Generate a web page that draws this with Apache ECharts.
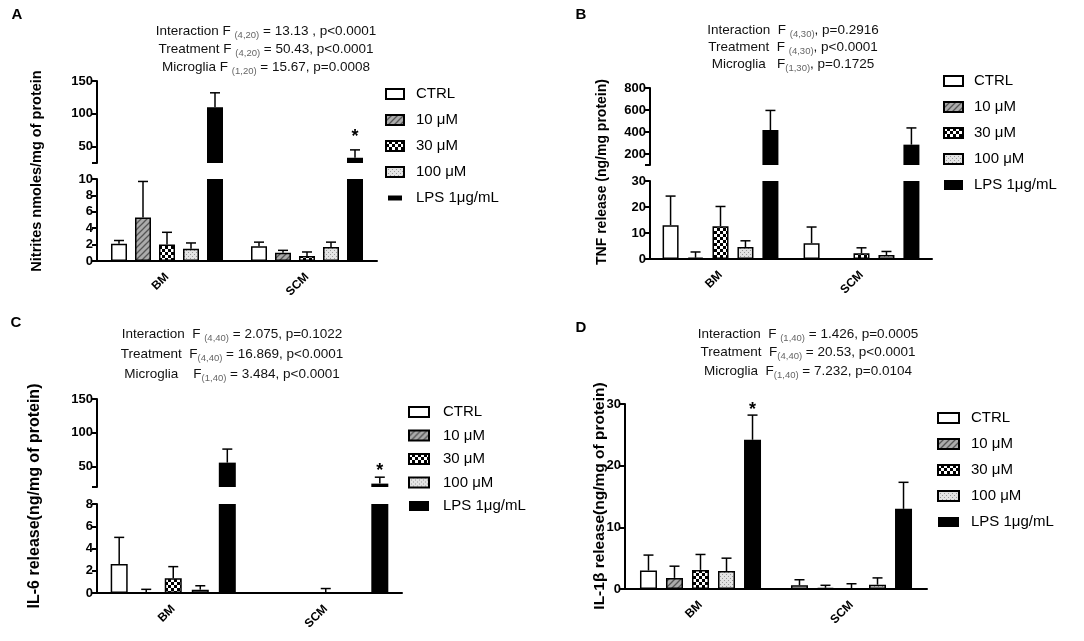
<!DOCTYPE html>
<html>
<head>
<meta charset="utf-8">
<script src="https://cdn.jsdelivr.net/npm/echarts@6/dist/echarts.min.js"></script>
<style>
html, body { margin: 0; background: #fff; }
#main { width: 1084px; height: 641px; }
</style>
</head>
<body>
<div id="main"></div>
<script>
var FONT = '"Liberation Sans", Arial, sans-serif';

var treatments = ['CTRL', '10 μM', '30 μM', '100 μM', 'LPS 1μg/mL'];
var groups = ['BM', 'SCM'];

// rows = treatment, cols = [BM, SCM]
// A - nitrites
var nitMean = [[2.1, 1.8], [5.3, 1.0], [2.0, 0.6], [1.5, 1.7], [110, 33]];
var nitErr = [[0.4, 0.5], [4.4, 0.3], [1.5, 0.5], [0.7, 0.6], [22, 12]];
// B - TNF
var tnfMean = [[13, 6.1], [0.5, 0], [12.6, 2.2], [4.6, 1.5], [418, 285]];
var tnfErr = [[11.2, 6.2], [2.2, 0], [7.6, 2.1], [2.4, 1.4], [178, 152]];
// C - IL-6
var il6Mean = [[2.6, 0], [0.05, 0], [1.32, 0], [0.3, 0], [56, 25]];
var il6Err = [[2.4, 0], [0.28, 0], [1.05, 0.4], [0.35, 0], [20, 9.5]];
// D - IL-1b
var il1Mean = [[3.0, 0.6], [1.8, 0.2], [3.1, 0], [2.9, 0.7], [24.2, 13.0]];
var il1Err = [[2.5, 0.9], [1.9, 0.4], [2.5, 0.85], [2.1, 1.1], [4.0, 4.3]];

// significance stars [group, treatment, y]
var nitStars = [[1, 4, 71]];
var il6Stars = [[1, 4, 50]];
var il1Stars = [[0, 4, 29.7]];

// axis ticks of the upper (broken) segments
var nitTicksUp = [25, 50, 100, 150];
var nitLabelsUp = [50, 100, 150];
var tnfTicksUp = [100, 200, 400, 600, 800];
var tnfLabelsUp = [200, 400, 600, 800];
var il6TicksUp = [20, 50, 100, 150];
var il6LabelsUp = [50, 100, 150];

// fill patterns
function pattern(w, h, draw) {
	var c = document.createElement('canvas');
	c.width = w; c.height = h;
	draw(c.getContext('2d'));
	return { image: c, repeat: 'repeat' };
}
var fills = [
	'#ffffff',
	pattern(6, 6, function(g) {
		g.fillStyle = '#ababab'; g.fillRect(0, 0, 6, 6);
		g.strokeStyle = '#555'; g.lineWidth = 1.3;
		g.beginPath();
		g.moveTo(0, 6); g.lineTo(6, 0);
		g.moveTo(-1, 1); g.lineTo(1, -1);
		g.moveTo(5, 7); g.lineTo(7, 5);
		g.stroke();
	}),
	pattern(6, 6, function(g) {
		g.fillStyle = '#000'; g.fillRect(0, 0, 6, 6);
		g.fillStyle = '#fff'; g.fillRect(0, 0, 3, 3); g.fillRect(3, 3, 3, 3);
	}),
	pattern(4, 4, function(g) {
		g.fillStyle = '#e4e4e4'; g.fillRect(0, 0, 4, 4);
		g.fillStyle = '#9a9a9a'; g.fillRect(0, 0, 1, 1); g.fillRect(2, 2, 1, 1);
	}),
	'#000000'
];

var option = {
	animation: false,
	textStyle: { fontFamily: FONT },
	grid: [], xAxis: [], yAxis: [], series: [], legend: [], graphic: []
};

function errRenderer(step) {
	return function(params, api) {
		var base = api.coord([api.value(0), api.value(1)]);
		var top = api.coord([api.value(0), api.value(1) + api.value(2)]);
		var x = base[0] + (api.value(3) - 2) * step;
		var st = { stroke: '#000', lineWidth: 1.5 };
		return {
			type: 'group',
			children: [
				{ type: 'line', shape: { x1: x, y1: base[1], x2: x, y2: top[1] }, style: st },
				{ type: 'line', shape: { x1: x - 5, y1: top[1], x2: x + 5, y2: top[1] }, style: st }
			]
		};
	};
}

function starRenderer(step) {
	return function(params, api) {
		var c = api.coord([api.value(0), api.value(2)]);
		return {
			type: 'text',
			x: c[0] + (api.value(1) - 2) * step,
			y: c[1] + 4,
			style: { text: '*', fontSize: 18, fontWeight: 'bold', fill: '#000', align: 'center', verticalAlign: 'middle', fontFamily: FONT }
		};
	};
}

// one segment of a (possibly broken) panel
function addSegment(p, s) {
	var gi = option.grid.length;
	var step = p.barWidth * (1 + p.gap);
	option.grid.push({ left: s.rect[0], top: s.rect[1], width: s.rect[2], height: s.rect[3] });
	option.xAxis.push({
		type: 'category', gridIndex: gi, data: groups, show: !!s.bottom,
		axisLine: { lineStyle: { color: '#000', width: 2 } },
		axisTick: { show: false },
		axisLabel: { rotate: 45, margin: 14, fontWeight: 'bold', fontSize: 12, color: '#000' }
	});
	var y = {
		type: 'value', gridIndex: gi, min: s.min, max: s.max,
		splitLine: { show: false },
		axisLine: { show: true, lineStyle: { color: '#000', width: 2 } },
		axisTick: { show: true, length: 5, lineStyle: { color: '#000', width: 2 } },
		axisLabel: { fontWeight: 'bold', fontSize: 13, color: '#000', margin: 4 }
	};
	if (s.ticks) {
		y.axisTick.customValues = s.ticks;
		y.axisLabel.customValues = s.labels;
	} else {
		y.interval = s.interval;
	}
	option.yAxis.push(y);

	var errData = [];
	treatments.forEach(function(name, t) {
		var vals = p.mean[t].map(function(v) {
			return (s.bottom || v > s.min) ? v : '-';
		});
		option.series.push({
			type: 'bar', name: name, xAxisIndex: gi, yAxisIndex: gi,
			data: vals, barWidth: p.barWidth, barGap: (p.gap * 100) + '%',
			itemStyle: { color: fills[t], borderColor: '#000', borderWidth: t === 4 ? 0 : 1.5 }
		});
		p.mean[t].forEach(function(v, g) {
			var e = p.err[t][g];
			if (!e) return;
			var ok = s.bottom ? (v + e <= s.max) : (v > s.min);
			if (ok) errData.push([g, v, e, t]);
		});
	});
	option.series.push({
		type: 'custom', name: 'err' + gi, xAxisIndex: gi, yAxisIndex: gi, z: 5,
		renderItem: errRenderer(step), data: errData, encode: { x: 0, y: 1 }
	});
	var stars = (p.stars || []).filter(function(d) {
		return s.bottom ? d[2] <= s.max : d[2] > s.min;
	});
	if (stars.length) {
		option.series.push({
			type: 'custom', name: 'star' + gi, xAxisIndex: gi, yAxisIndex: gi, z: 6,
			renderItem: starRenderer(step), data: stars, encode: { x: 0, y: 2 }
		});
	}
}

function addLegend(l) {
	option.legend.push({
		orient: 'vertical', left: l.left, top: l.top, icon: 'rect',
		itemWidth: l.w, itemHeight: 10, itemGap: l.gap, selectedMode: false,
		textStyle: { fontSize: 15, color: '#000', lineHeight: 16, padding: [0, 0, 0, l.pad] },
		data: treatments.map(function(n, i) {
			if (i === 4 && l.thinLps) return { name: n, icon: 'path://M0,0M18,10M2,2.5h14v5h-14z' };
			return { name: n };
		})
	});
}

function txt(x, y, text, font, extra) {
	var el = { type: 'text', x: x, y: y, style: { text: text, font: font, fill: '#000', align: 'center', verticalAlign: 'middle' } };
	for (var k in extra) el[k] = extra[k];
	return el;
}

function stat(x, y, text) {
	return {
		type: 'text', x: x, y: y,
		style: {
			text: text, align: 'center', verticalAlign: 'middle', fill: '#111',
			fontFamily: FONT, fontSize: 13.5,
			rich: {
				n: { fontSize: 13.5, fontFamily: FONT, fill: '#111' },
				s: { fontSize: 9.5, fontFamily: FONT, fill: '#666', padding: [8, 0, 0, 0] }
			}
		}
	};
}

// panel A
var pA = { mean: nitMean, err: nitErr, barWidth: 16, gap: 0.5, stars: nitStars };
addSegment(pA, { rect: [97, 81, 280, 82], min: 25, max: 150, ticks: nitTicksUp, labels: nitLabelsUp });
addSegment(pA, { rect: [97, 179, 280, 82], min: 0, max: 10, interval: 2, bottom: true });
addLegend({ left: 380, top: 81, w: 18, gap: 10, pad: 7, thinLps: true });

// panel B
var pB = { mean: tnfMean, err: tnfErr, barWidth: 16, gap: 0.56 };
addSegment(pB, { rect: [650, 88, 282, 77], min: 100, max: 800, ticks: tnfTicksUp, labels: tnfLabelsUp });
addSegment(pB, { rect: [650, 181, 282, 78], min: 0, max: 30, interval: 10, bottom: true });
addLegend({ left: 938, top: 68, w: 19, gap: 10, pad: 6 });

// panel C
var pC = { mean: il6Mean, err: il6Err, barWidth: 17, gap: 0.59, stars: il6Stars };
addSegment(pC, { rect: [97, 399, 305, 88], min: 20, max: 150, ticks: il6TicksUp, labels: il6LabelsUp });
addSegment(pC, { rect: [97, 504, 305, 89], min: 0, max: 8, interval: 2, bottom: true });
addLegend({ left: 403, top: 399, w: 20, gap: 7.5, pad: 9 });

// panel D
var pD = { mean: il1Mean, err: il1Err, barWidth: 17, gap: 0.53, stars: il1Stars };
addSegment(pD, { rect: [625, 404, 302, 185], min: 0, max: 30, interval: 10, bottom: true });
addLegend({ left: 932, top: 405, w: 21, gap: 10, pad: 7 });

// letters, statistics, axis names
var B15 = 'bold 15px ' + FONT;
option.graphic = [
	txt(17, 15, 'A', B15), txt(581, 15, 'B', B15), txt(16, 323, 'C', B15), txt(581, 328, 'D', B15),

	stat(266, 31, '{n|Interaction F }{s|(4,20)}{n| = 13.13 , p<0.0001}'),
	stat(266, 49, '{n|Treatment F }{s|(4,20)}{n| = 50.43, p<0.0001}'),
	stat(266, 67, '{n|Microglia F }{s|(1,20)}{n| = 15.67, p=0.0008}'),

	stat(793, 30, '{n|Interaction  F }{s|(4,30)}{n|, p=0.2916}'),
	stat(793, 47, '{n|Treatment  F }{s|(4,30)}{n|, p<0.0001}'),
	stat(793, 64, '{n|Microglia   F}{s|(1,30)}{n|, p=0.1725}'),

	stat(232, 334, '{n|Interaction  F }{s|(4,40)}{n| = 2.075, p=0.1022}'),
	stat(232, 354, '{n|Treatment  F}{s|(4,40)}{n| = 16.869, p<0.0001}'),
	stat(232, 374, '{n|Microglia    F}{s|(1,40)}{n| = 3.484, p<0.0001}'),

	stat(808, 334, '{n|Interaction  F }{s|(1,40)}{n| = 1.426, p=0.0005}'),
	stat(808, 352, '{n|Treatment  F}{s|(4,40)}{n| = 20.53, p<0.0001}'),
	stat(808, 371, '{n|Microglia  F}{s|(1,40)}{n| = 7.232, p=0.0104}'),

	txt(37, 171, 'Nitrites nmoles/mg of protein', 'bold 14.5px ' + FONT, { rotation: Math.PI / 2 }),
	txt(602, 172, 'TNF release (ng/mg protein)', 'bold 14px ' + FONT, { rotation: Math.PI / 2 }),
	txt(35, 496, 'IL-6 release(ng/mg of protein)', 'bold 16px ' + FONT, { rotation: Math.PI / 2 }),
	txt(600, 496, 'IL-1β release(ng/mg of protein)', 'bold 15.5px ' + FONT, { rotation: Math.PI / 2 })
];

var chart = echarts.init(document.getElementById('main'), null, { renderer: 'canvas' });
chart.setOption(option);
</script>
</body>
</html>
